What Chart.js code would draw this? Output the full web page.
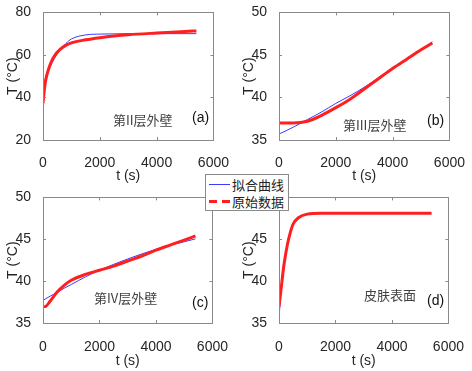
<!DOCTYPE html>
<html>
<head>
<meta charset="utf-8">
<script src="https://cdn.jsdelivr.net/npm/chart.js@4/dist/chart.umd.min.js"></script>
<style>
  body { margin: 0; background: #fff; }
  #fig { position: relative; width: 472px; height: 371px; background: #fff; overflow: hidden; }
  #fig canvas { position: absolute; }
  .note { position: absolute; font-family: "Noto Sans CJK SC", sans-serif; font-size: 13px; line-height: 14px; color: #404040; white-space: nowrap; }
  .tag { position: absolute; font-family: "Liberation Sans", Arial, sans-serif; font-size: 14px; line-height: 14px; color: #111; }
  #legend { position: absolute; left: 205px; top: 174px; width: 82px; height: 35px; background: #fff; border: 1px solid #8a8a8a; font-family: "Noto Sans CJK SC", sans-serif; font-size: 13px; color: #222; }
  #legend .row { position: absolute; left: 0; height: 17px; line-height: 17px; }
  #legend .swatch { position: absolute; left: 3px; width: 21px; }
  #legend .label { position: absolute; left: 26px; white-space: nowrap; }
</style>
</head>
<body>
<div id="fig">
  <canvas id="chartA" width="236" height="185" style="left:0;top:0"></canvas>
  <canvas id="chartB" width="236" height="185" style="left:236px;top:0"></canvas>
  <canvas id="chartC" width="236" height="186" style="left:0;top:185px"></canvas>
  <canvas id="chartD" width="236" height="186" style="left:236px;top:185px"></canvas>

  <div class="note" style="left:113px;top:113px">第II层外壁</div>
  <div class="tag" style="left:192px;top:110px">(a)</div>
  <div class="note" style="left:343px;top:118px">第III层外壁</div>
  <div class="tag" style="left:427px;top:113px">(b)</div>
  <div class="note" style="left:94px;top:291px">第IV层外壁</div>
  <div class="tag" style="left:192px;top:295px">(c)</div>
  <div class="note" style="left:364px;top:288px">皮肤表面</div>
  <div class="tag" style="left:427px;top:293px">(d)</div>

  <div id="legend">
    <div class="row" style="top:1px">
      <div class="swatch" style="top:8px;height:1px;background:#3a3aff"></div>
      <div class="label">拟合曲线</div>
    </div>
    <div class="row" style="top:18px">
      <div class="swatch" style="top:7px;height:3px;background:repeating-linear-gradient(90deg,#ff1f1f 0 8px,transparent 8px 13px)"></div>
      <div class="label">原始数据</div>
    </div>
  </div>
</div>

<script>
// (a) 第II层外壁
const timeA = [0, 50, 100, 200, 300, 400, 600, 800, 1000, 1500, 2000, 2500, 3000, 4000, 5000, 5400];
const fitA  = [46, 47.5, 49.5, 52.8, 55.8, 58.3, 62.3, 65.3, 67.5, 69.4, 69.8, 69.9, 70.0, 70.0, 70.0, 70.0];
const rawA  = [37.2, 44, 48.5, 53.5, 57.0, 59.5, 62.6, 64.5, 65.7, 67.1, 68.1, 68.9, 69.5, 70.3, 71.0, 71.3];

// (b) 第III层外壁
const timeB = [0, 500, 1000, 1500, 2000, 2500, 3000, 3500, 4000, 4500, 5000, 5400];
const fitB  = [35.7, 36.5, 37.4, 38.3, 39.3, 40.2, 41.2, 42.3, 43.4, 44.5, 45.6, 46.55];
const rawB  = [37.0, 37.0, 37.2, 37.9, 38.8, 39.8, 41.0, 42.2, 43.4, 44.5, 45.6, 46.4];

// (c) 第IV层外壁
const timeC = [0, 100, 250, 500, 750, 1000, 1500, 2000, 2500, 3000, 3500, 4000, 4500, 5000, 5400];
const fitC  = [37.7, 37.9, 38.2, 38.65, 39.15, 39.6, 40.5, 41.3, 42.0, 42.65, 43.25, 43.8, 44.3, 44.7, 45.05];
const rawC  = [36.95, 37.0, 37.6, 38.7, 39.5, 40.1, 40.8, 41.3, 41.8, 42.4, 43.0, 43.7, 44.3, 44.9, 45.4];

// (d) 皮肤表面
const timeD = [0, 50, 100, 150, 200, 300, 400, 500, 700, 1000, 1500, 2000, 3000, 4000, 5000, 5400];
const fitD  = [35.3, 38.0, 39.6, 41.2, 42.5, 44.4, 45.8, 46.8, 47.6, 48.0, 48.1, 48.1, 48.1, 48.1, 48.1, 48.1];
const rawD  = [36.95, 38.4, 39.8, 41.3, 42.5, 44.4, 45.8, 46.8, 47.6, 48.0, 48.1, 48.1, 48.1, 48.1, 48.1, 48.1];

const xTicks = [0, 2000, 4000, 6000];

const axisColor = '#8a8a8a';
const textColor = '#262626';
const tickFont = { family: '"Liberation Sans", Arial, sans-serif', size: 14 };
const titleFont = { family: '"Liberation Sans", Arial, sans-serif', size: 14 };

function toPoints(xs, ys) {
    return xs.map((x, i) => ({ x: x, y: ys[i] }));
}

// MATLAB-like box with inward ticks on all four sides
const boxPlugin = {
    id: 'box',
    afterDatasetsDraw(chart) {
        const { ctx, chartArea: a, scales } = chart;
        ctx.save();
        ctx.strokeStyle = axisColor;
        ctx.lineWidth = 1;
        ctx.strokeRect(Math.round(a.left) + 0.5, Math.round(a.top) + 0.5,
            Math.round(a.right - a.left), Math.round(a.bottom - a.top));
        ctx.beginPath();
        scales.x.ticks.forEach(t => {
            const px = Math.round(scales.x.getPixelForValue(t.value)) + 0.5;
            ctx.moveTo(px, a.bottom); ctx.lineTo(px, a.bottom - 3);
            ctx.moveTo(px, a.top); ctx.lineTo(px, a.top + 3);
        });
        scales.y.ticks.forEach(t => {
            const py = Math.round(scales.y.getPixelForValue(t.value)) + 0.5;
            ctx.moveTo(a.left, py); ctx.lineTo(a.left + 3, py);
            ctx.moveTo(a.right, py); ctx.lineTo(a.right - 3, py);
        });
        ctx.stroke();
        ctx.restore();
    }
};

function makePanel(id, times, fit, raw, yMin, yMax, yStep, box) {
    new Chart(document.getElementById(id), {
        type: 'line',
        data: {
            datasets: [
                {
                    label: '原始数据',
                    data: toPoints(times, raw),
                    borderColor: '#ff1f1f',
                    borderWidth: 3,
                    pointRadius: 0,
                    cubicInterpolationMode: 'monotone',
                    order: 0
                },
                {
                    label: '拟合曲线',
                    data: toPoints(times, fit),
                    borderColor: '#3a3aff',
                    borderWidth: 1,
                    pointRadius: 0,
                    cubicInterpolationMode: 'monotone',
                    order: 1
                }
            ]
        },
        options: {
            responsive: false,
            animation: false,
            layout: { padding: { top: box.top, right: box.right, left: 0, bottom: 0 } },
            plugins: { legend: { display: false }, tooltip: { enabled: false } },
            scales: {
                x: {
                    type: 'linear',
                    min: 0,
                    max: 6000,
                    afterBuildTicks: s => { s.ticks = xTicks.map(v => ({ value: v })); },
                    ticks: { color: textColor, font: tickFont, padding: box.xPad, maxRotation: 0, callback: v => String(v) },
                    grid: { display: false },
                    border: { display: false },
                    title: { display: true, text: 't (s)', color: textColor, font: titleFont, padding: { top: 0, bottom: box.titlePad } },
                    afterFit: s => { s.height = box.xh; }
                },
                y: {
                    min: yMin,
                    max: yMax,
                    ticks: { stepSize: yStep, color: textColor, font: tickFont, padding: 4, callback: v => String(v) },
                    grid: { display: false },
                    border: { display: false },
                    title: { display: true, text: 'T (°C)', color: textColor, font: titleFont, padding: { top: 5, bottom: 0 } },
                    afterFit: s => { s.width = 43; }
                }
            }
        },
        plugins: [boxPlugin]
    });
}

makePanel('chartA', timeA, fitA, rawA, 20, 80, 20, { top: 11, right: 17, xh: 45, xPad: 7, titlePad: 0 });
makePanel('chartB', timeB, fitB, rawB, 35, 50, 5, { top: 11, right: 18, xh: 45, xPad: 7, titlePad: 0 });
makePanel('chartC', timeC, fitC, rawC, 35, 50, 5, { top: 9, right: 17, xh: 48, xPad: 8, titlePad: 1 });
makePanel('chartD', timeD, fitD, rawD, 35, 50, 5, { top: 9, right: 18, xh: 48, xPad: 8, titlePad: 1 });
</script>
</body>
</html>
